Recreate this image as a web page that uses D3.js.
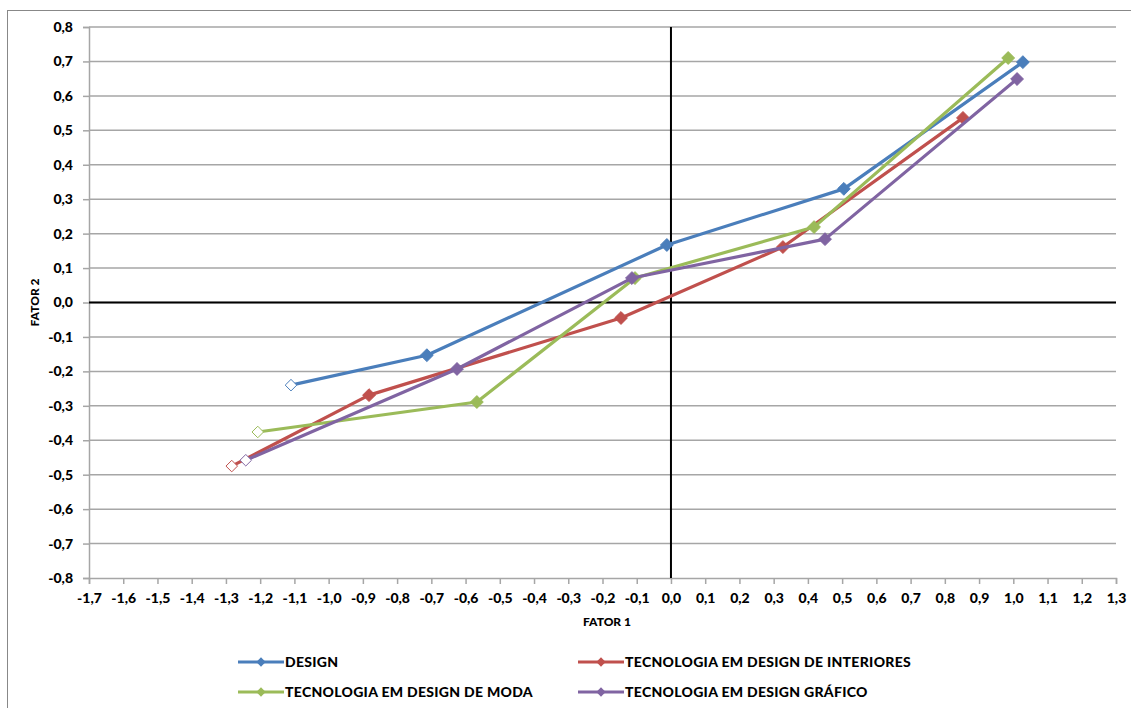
<!DOCTYPE html>
<html>
<head>
<meta charset="utf-8">
<script src="https://cdn.jsdelivr.net/npm/d3@7"></script>
<style>
  body { margin: 0; background: #fff; }
  svg text { font-family: Lato, "Open Sans", sans-serif; font-weight: bold; fill: #000; }
</style>
</head>
<body>
<svg width="1131" height="708"></svg>
<script>
// series names and colours
const seriesNames = ['DESIGN', 'TECNOLOGIA EM DESIGN DE INTERIORES', 'TECNOLOGIA EM DESIGN DE MODA', 'TECNOLOGIA EM DESIGN GRÁFICO'];
const seriesColors = ['#4a7ebb', '#c0504d', '#9bbb59', '#8064a2'];

// values (fator 1, fator 2)
const designX = [-1.11, -0.713, -0.012, 0.505, 1.028];
const designY = [-0.24, -0.153, 0.167, 0.33, 0.698];
const interioresX = [-1.283, -0.882, -0.146, 0.327, 0.853];
const interioresY = [-0.475, -0.269, -0.045, 0.161, 0.536];
const modaX = [-1.207, -0.567, -0.105, 0.418, 0.985];
const modaY = [-0.376, -0.289, 0.071, 0.219, 0.71];
const graficoX = [-1.242, -0.625, -0.114, 0.45, 1.011];
const graficoY = [-0.458, -0.193, 0.071, 0.184, 0.649];

const xTicks = d3.range(-17, 14).map(d => d / 10);
const yTicks = d3.range(-8, 9).map(d => d / 10);

const series = [
    { name: seriesNames[0], color: seriesColors[0], xs: designX, ys: designY },
    { name: seriesNames[1], color: seriesColors[1], xs: interioresX, ys: interioresY },
    { name: seriesNames[2], color: seriesColors[2], xs: modaX, ys: modaY },
    { name: seriesNames[3], color: seriesColors[3], xs: graficoX, ys: graficoY }
];

const svg = d3.select('svg');
const fmt = d => d3.format('.1f')(d).replace('.', ',').replace('\u2212', '-');

// chart border
svg.append('rect')
    .attr('x', 7.5).attr('y', 10.5)
    .attr('width', 1140).attr('height', 710)
    .attr('fill', 'none').attr('stroke', '#888').attr('stroke-width', 1);

const x = d3.scaleLinear().domain([-1.7, 1.3]).range([89, 1116]);
const y = d3.scaleLinear().domain([-0.8, 0.8]).range([578, 27]);

// horizontal gridlines
svg.append('g')
    .selectAll('line')
    .data(yTicks.slice(1))
    .enter().append('line')
    .attr('x1', x(-1.7)).attr('x2', x(1.3))
    .attr('y1', d => y(d)).attr('y2', d => y(d))
    .attr('stroke', '#a6a6a6').attr('stroke-width', 1.5);

// axes
const xAxis = svg.append('g')
    .attr('transform', `translate(0,${y(-0.8)})`)
    .call(d3.axisBottom(x).tickValues(xTicks).tickFormat(fmt).tickSize(6).tickPadding(9));
const yAxis = svg.append('g')
    .attr('transform', `translate(${x(-1.7)},0)`)
    .call(d3.axisLeft(y).tickValues(yTicks).tickFormat(fmt).tickSize(6).tickPadding(10));

[xAxis, yAxis].forEach(a => {
    a.select('.domain').attr('stroke', '#a6a6a6').attr('stroke-width', 1.5);
    a.selectAll('.tick line').attr('stroke', '#a6a6a6').attr('stroke-width', 1.5);
    a.selectAll('.tick text').style('font-size', '14px').style('font-weight', 900);
});

// zero lines
svg.append('line')
    .attr('x1', x(-1.7)).attr('x2', x(1.3))
    .attr('y1', y(0)).attr('y2', y(0))
    .attr('stroke', '#000').attr('stroke-width', 2);
svg.append('line')
    .attr('x1', x(0)).attr('x2', x(0))
    .attr('y1', y(0.8)).attr('y2', y(-0.8))
    .attr('stroke', '#000').attr('stroke-width', 2);

// axis titles
svg.append('text')
    .attr('x', 607).attr('y', 626)
    .attr('text-anchor', 'middle')
    .style('font-size', '12px')
    .style('font-weight', 900)
    .text('FATOR 1');
svg.append('text')
    .attr('transform', `translate(39,${y(0)}) rotate(-90)`)
    .attr('text-anchor', 'middle')
    .style('font-size', '12px')
    .style('font-weight', 900)
    .text('FATOR 2');

const diamond = d3.symbol().type(d3.symbolDiamond2).size(105);
const hollow = d3.symbol().type(d3.symbolDiamond2).size(85);
const line = d3.line().x(d => x(d[0])).y(d => y(d[1]));

series.forEach(s => {
    const pts = s.xs.map((v, i) => [v, s.ys[i]]);
    svg.append('path')
        .datum(pts)
        .attr('d', line)
        .attr('fill', 'none')
        .attr('stroke', s.color)
        .attr('stroke-width', 3.2)
        .attr('stroke-linejoin', 'round');
    svg.append('g')
        .selectAll('path')
        .data(pts)
        .enter().append('path')
        .attr('d', (d, i) => i === 0 ? hollow() : diamond())
        .attr('transform', d => `translate(${x(d[0])},${y(d[1])})`)
        .attr('fill', (d, i) => i === 0 ? '#fff' : s.color)
        .attr('stroke', s.color)
        .attr('stroke-width', 1);
});

// legend
const legendPos = [[238, 662], [578, 662], [238, 692], [578, 692]];
series.forEach((s, i) => {
    const g = svg.append('g').attr('transform', `translate(${legendPos[i][0]},${legendPos[i][1]})`);
    g.append('line').attr('x1', 0).attr('x2', 46).attr('y1', 0).attr('y2', 0)
        .attr('stroke', s.color).attr('stroke-width', 3);
    g.append('path').attr('d', d3.symbol().type(d3.symbolDiamond2).size(55)())
        .attr('transform', 'translate(23,0)')
        .attr('fill', s.color);
    g.append('text').attr('x', 47).attr('y', 5)
        .style('font-size', '14px')
        .style('font-weight', 900)
        .style('letter-spacing', '0.3px')
        .text(s.name);
});
</script>
</body>
</html>
